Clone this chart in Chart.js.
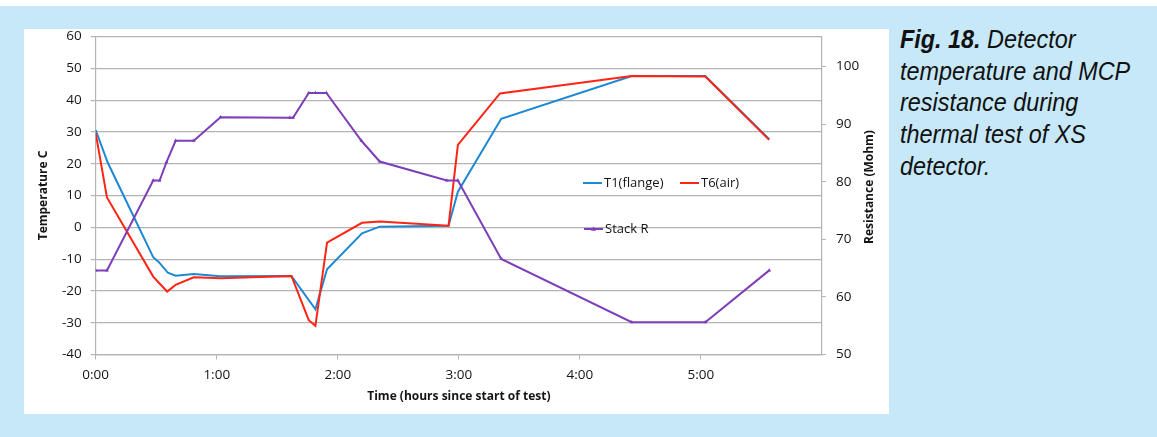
<!DOCTYPE html>
<html>
<head>
<meta charset="utf-8">
<script src="https://cdn.jsdelivr.net/npm/chart.js@4.4.1/dist/chart.umd.min.js"></script>
<style>
  html, body { margin: 0; padding: 0; }
  body { width: 1157px; height: 437px; background: #ffffff; position: relative; overflow: hidden; }
  #bg { position: absolute; left: 0; top: 6px; width: 1157px; height: 431px; background: #c7e8f8; }
  #panel { position: absolute; left: 24px; top: 29px; width: 865px; height: 385px; background: #ffffff; }
  #caption { position: absolute; left: 900px; top: 24px; font-family: "Liberation Sans", Arial, sans-serif;
    font-style: italic; font-size: 26px; line-height: 31.7px; color: #111; white-space: nowrap;
    transform: scaleX(0.9); transform-origin: 0 0; }
  #caption b { font-weight: bold; }
</style>
</head>
<body>
<div id="bg"></div>
<div id="panel"><canvas id="c" width="865" height="385"></canvas></div>
<div id="caption"><b>Fig. 18.</b> Detector<br>temperature and MCP<br>resistance during<br>thermal test of XS<br>detector.</div>
<script>
// ---- data (time in hours since start of test) ----
const t1Times = [0, 0.10, 0.475, 0.52, 0.596, 0.66, 0.81, 1.031, 1.617, 1.815, 1.911, 2.20, 2.346, 2.915, 2.992, 3.35, 4.428, 5.036, 5.564];
const t1Temps = [30.6, 20.3, -9.4, -10.9, -14.3, -15.2, -14.7, -15.4, -15.3, -25.8, -13.2, -1.9, 0.2, 0.5, 11.2, 34.1, 47.6, 47.6, 27.7];

const t6Times = [0, 0.093, 0.475, 0.59, 0.66, 0.81, 1.031, 1.617, 1.76, 1.815, 1.911, 2.20, 2.346, 2.915, 2.992, 3.34, 4.428, 5.036, 5.564];
const t6Temps = [29.6, 9.4, -15.5, -20.2, -18.1, -15.7, -16.0, -15.3, -29.2, -31.0, -4.8, 1.4, 1.8, 0.5, 25.9, 42.1, 47.6, 47.4, 27.5];

const stackTimes = [0, 0.093, 0.475, 0.528, 0.585, 0.66, 0.81, 1.031, 1.603, 1.63, 1.76, 1.815, 1.906, 2.195, 2.346, 2.901, 2.992, 3.35, 4.428, 5.036, 5.564];
const stackR = [64.6, 64.6, 80.2, 80.2, 83.4, 87.1, 87.1, 91.2, 91.1, 91.1, 95.4, 95.4, 95.4, 87.1, 83.5, 80.2, 80.2, 66.6, 55.6, 55.6, 64.6];

const xTickHours = [0, 1, 2, 3, 4, 5];
const leftTicks = [-40, -30, -20, -10, 0, 10, 20, 30, 40, 50, 60];
const rightTicks = [50, 60, 70, 80, 90, 100];

const seriesNames = ['T1(flange)', 'T6(air)', 'Stack R'];
const xTitle = 'Time (hours since start of test)';
const yTitle = 'Temperature C';
const y2Title = 'Resistance (Mohm)';

const BLUE = '#1e88d2', RED = '#ff2414', PURPLE = '#7d3fb9';
const GRID = '#b4b4b4';
const TXT = '#141414';
const FONT = '"Open Sans", "Liberation Sans", sans-serif';

const pts = (xs, ys) => xs.map((x, i) => ({ x: x, y: ys[i] }));
const noPad = s => { s.paddingTop = 0; s.paddingBottom = 0; s.paddingLeft = 0; s.paddingRight = 0; };

const legendPlugin = {
  id: 'customLegend',
  afterDraw(chart) {
    const ctx = chart.ctx;
    ctx.save();
    ctx.font = '13px ' + FONT;
    ctx.fillStyle = TXT;
    ctx.textBaseline = 'middle';
    ctx.textAlign = 'left';
    ctx.lineWidth = 2;
    const items = [
      { x: 559, y: 154, c: BLUE, t: seriesNames[0], m: false },
      { x: 656, y: 154, c: RED, t: seriesNames[1], m: false },
      { x: 560, y: 200, c: PURPLE, t: seriesNames[2], m: true }
    ];
    items.forEach(it => {
      ctx.strokeStyle = it.c;
      ctx.beginPath(); ctx.moveTo(it.x, it.y); ctx.lineTo(it.x + 19, it.y); ctx.stroke();
      if (it.m) {
        ctx.fillStyle = it.c;
        ctx.beginPath();
        ctx.moveTo(it.x + 9.5, it.y - 2.5); ctx.lineTo(it.x + 12, it.y + 1.8); ctx.lineTo(it.x + 7, it.y + 1.8);
        ctx.closePath(); ctx.fill();
      }
      ctx.fillStyle = TXT;
      ctx.fillText(it.t, it.x + 21, it.y + 0.5);
    });
    // right axis title, reading bottom-to-top
    ctx.font = 'bold 12px ' + FONT;
    ctx.textAlign = 'center';
    ctx.translate(846, 158);
    ctx.rotate(-Math.PI / 2);
    ctx.fillText(y2Title, 0, 0);
    ctx.restore();
  }
};

new Chart(document.getElementById('c'), {
  type: 'line',
  data: {
    datasets: [
      { label: seriesNames[2], data: pts(stackTimes, stackR), yAxisID: 'y2', borderColor: PURPLE, backgroundColor: PURPLE,
        borderWidth: 2, pointStyle: 'triangle', pointRadius: 2.2, pointBorderWidth: 0, tension: 0 },
      { label: seriesNames[1], data: pts(t6Times, t6Temps), yAxisID: 'y', borderColor: RED, backgroundColor: RED,
        borderWidth: 2, pointRadius: 0, tension: 0 },
      { label: seriesNames[0], data: pts(t1Times, t1Temps), yAxisID: 'y', borderColor: BLUE, backgroundColor: BLUE,
        borderWidth: 2, pointRadius: 0, tension: 0 }
    ]
  },
  options: {
    responsive: false,
    animation: false,
    layout: { padding: { top: 7.5, left: 0, right: 0, bottom: 0 } },
    plugins: { legend: { display: false }, tooltip: { enabled: false } },
    scales: {
      x: {
        type: 'linear', min: 0, max: 6,
        afterBuildTicks(s) { s.ticks = xTickHours.map(v => ({ value: v })); },
        afterFit(s) { s.height = 59.5; noPad(s); },
        ticks: { font: { size: 13.5, family: FONT }, color: TXT, padding: 8, maxRotation: 0,
          callback: v => Math.floor(v) + ':00' },
        grid: { drawOnChartArea: false, drawTicks: true, tickLength: 5, color: GRID, lineWidth: 1 },
        border: { color: GRID, width: 1.2 },
        title: { display: true, text: xTitle, font: { size: 12, weight: 'bold', family: FONT }, color: TXT,
          padding: { top: 0, bottom: 10 } }
      },
      y: {
        position: 'left', min: -40, max: 60,
        afterBuildTicks(s) { s.ticks = leftTicks.map(v => ({ value: v })); },
        afterFit(s) { s.width = 71.7; noPad(s); },
        ticks: { font: { size: 13.5, family: FONT }, color: TXT, padding: 9 },
        grid: { color: GRID, lineWidth: 1.2, tickLength: 5 },
        border: { color: GRID, width: 1.2 },
        title: { display: true, text: yTitle, font: { size: 12, weight: 'bold', family: FONT }, color: TXT,
          padding: { top: 12, bottom: 0 } }
      },
      y2: {
        position: 'right', min: 50, max: 105.2,
        afterBuildTicks(s) { s.ticks = rightTicks.map(v => ({ value: v })); },
        afterFit(s) { s.width = 67; noPad(s); },
        ticks: { font: { size: 13.5, family: FONT }, color: TXT, padding: 10 },
        grid: { drawOnChartArea: false, color: GRID, lineWidth: 1, tickLength: 4 },
        border: { color: GRID, width: 1.2 }
      }
    }
  },
  plugins: [legendPlugin]
});
</script>
</body>
</html>
